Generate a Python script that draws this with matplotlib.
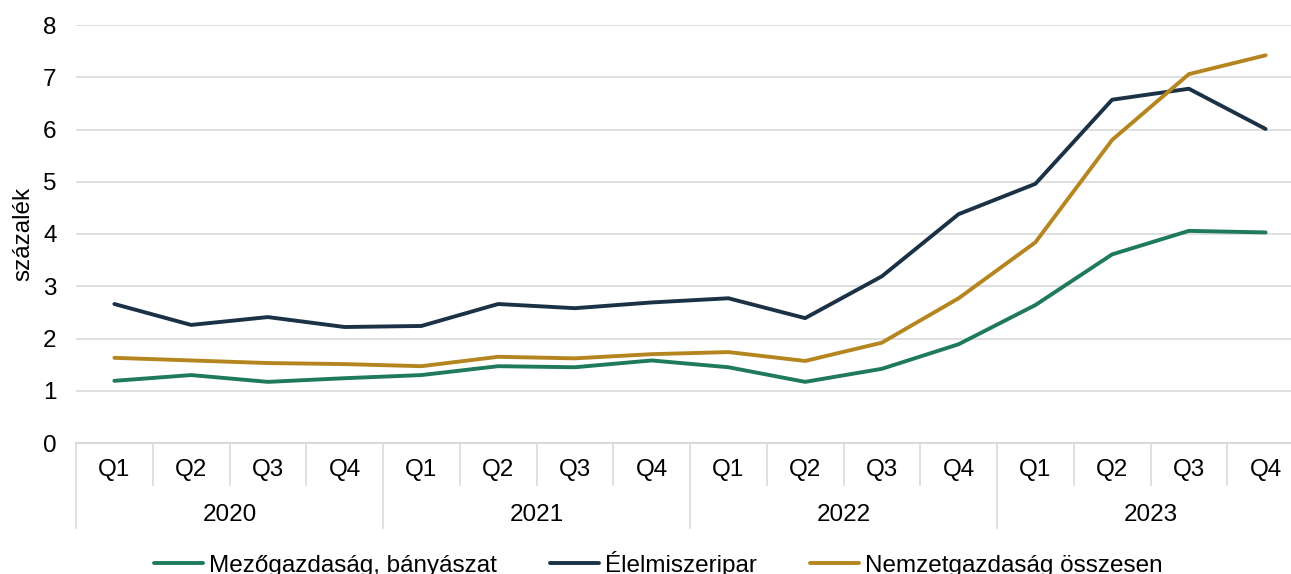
import matplotlib.pyplot as plt
import matplotlib.transforms as mtransforms

plt.rcParams['font.family'] = ['Liberation Sans', 'DejaVu Sans']

# negyedéves adatok, százalék
years = ['2020', '2021', '2022', '2023']
quarters = ['Q1', 'Q2', 'Q3', 'Q4']

mezogazdasag = [1.19, 1.30, 1.17, 1.24, 1.30, 1.47, 1.45, 1.58,
                1.45, 1.17, 1.42, 1.89, 2.64, 3.61, 4.06, 4.03]
elelmiszeripar = [2.66, 2.26, 2.41, 2.22, 2.24, 2.66, 2.58, 2.69,
                  2.77, 2.39, 3.19, 4.38, 4.96, 6.57, 6.78, 6.01]
nemzetgazdasag = [1.63, 1.58, 1.53, 1.51, 1.47, 1.65, 1.62, 1.70,
                  1.74, 1.57, 1.92, 2.77, 3.84, 5.80, 7.06, 7.42]

series_names = ['Mezőgazdaság, bányászat', 'Élelmiszeripar', 'Nemzetgazdaság összesen']
colors = ['#1f7a5c', '#1b3246', '#b5851f']
fs = 17.5

fig = plt.figure(figsize=(12.91, 5.74), dpi=100)
ax = fig.add_axes([76 / 1291, 131 / 574, 1228 / 1291, 418 / 574])

x = list(range(len(years) * len(quarters)))
for vals, name, c in zip([mezogazdasag, elelmiszeripar, nemzetgazdasag], series_names, colors):
    ax.plot(x, vals, color=c, lw=2.8, label=name, solid_capstyle='round')

ax.set_ylim(0, 8)
ax.set_xlim(-0.5, len(x) - 0.5)
ax.set_yticks(range(0, 9))
ax.tick_params(axis='y', length=0, pad=14, labelsize=fs)
ax.set_xticks([])
ax.grid(axis='y', color='#d9d9d9', lw=1.2)
ax.set_axisbelow(True)
for s in ax.spines.values():
    s.set_visible(False)
ax.set_ylabel('százalék', fontsize=fs, labelpad=6)

# kétszintű kategóriatengely
trans = mtransforms.blended_transform_factory(ax.transData, ax.transAxes)
axis_col = '#d9d9d9'
ax.plot([-0.5, len(x) - 0.5], [0, 0], color=axis_col, lw=1.5, transform=trans, clip_on=False)
for i in range(len(x) + 1):
    bottom = -0.203 if i % 4 == 0 else -0.1
    ax.plot([i - 0.5, i - 0.5], [0, bottom], color=axis_col, lw=1.2,
            transform=trans, clip_on=False)
for i in x:
    ax.text(i, -0.065, quarters[i % 4], transform=trans, ha='center', va='center', fontsize=fs)
for j, yr in enumerate(years):
    ax.text(j * 4 + 1.5, -0.172, yr, transform=trans, ha='center', va='center', fontsize=fs)

fig.legend(loc='center', bbox_to_anchor=(0.5 + 13 / 1291, 10 / 574), ncol=3, frameon=False,
           fontsize=fs, handlelength=2.0, handletextpad=0.25, columnspacing=2.2)

fig.savefig('out.png', dpi=100)
